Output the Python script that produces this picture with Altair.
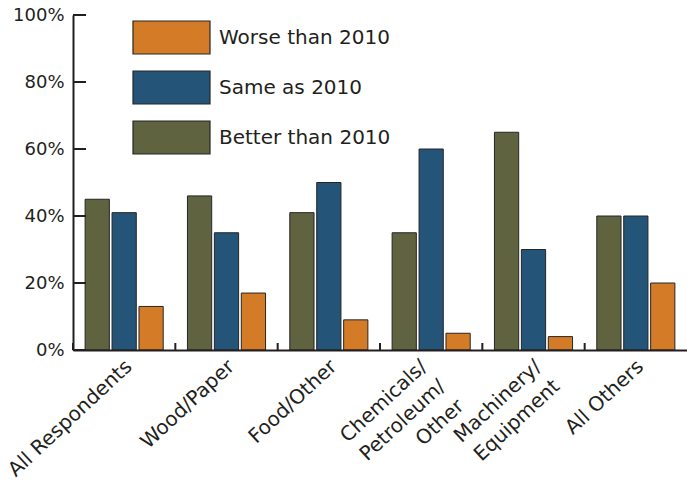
import altair as alt
import pandas as pd

# Survey outlook by industry group (share of respondents, %)
categories = [
    "All Respondents",
    "Wood/Paper",
    "Food/Other",
    "Chemicals/\nPetroleum/\nOther",
    "Machinery/\nEquipment",
    "All Others",
]
series = ["Worse than 2010", "Same as 2010", "Better than 2010"]
bar_order = ["Better than 2010", "Same as 2010", "Worse than 2010"]
better = [45, 46, 41, 35, 65, 40]
same = [41, 35, 50, 60, 30, 40]
worse = [13, 17, 9, 5, 4, 20]
colors = ["#d47b27", "#255479", "#5f633f"]
y_ticks = [0, 20, 40, 60, 80, 100]

ink = "#231f20"
font = "DejaVu Sans"

rows = []
for i, cat in enumerate(categories):
    for name, vals in zip(series, [worse, same, better]):
        rows.append({"category": cat, "response": name, "pct": vals[i]})
df = pd.DataFrame(rows)

x_scale = alt.Scale(domain=categories, paddingInner=0, paddingOuter=0)
y_scale = alt.Scale(domain=[0, 100], nice=False)

bars = alt.Chart(df).mark_bar(stroke="#262626", strokeWidth=1).encode(
    x=alt.X(
        "category:N",
        sort=categories,
        scale=x_scale,
        title=None,
        axis=alt.Axis(
            labelAngle=-43,
            labelAlign="right",
            labelBaseline="top",
            labelPadding=6,
            labelFontSize=20,
            labelLineHeight=27,
            labelExpr="split(datum.label, '\\n')",
            labelOffset={
                "condition": {"test": "indexof(datum.value, 'Chemicals') === 0", "value": -14},
                "value": -2,
            },
            labelOverlap=False,
            labelLimit=300,
            ticks=False,
            tickSize=0,
            domainWidth=2,
            domainColor=ink,
            zindex=1,
        ),
    ),
    xOffset=alt.XOffset(
        "response:N",
        sort=bar_order,
        scale=alt.Scale(domain=bar_order, paddingInner=0.1, paddingOuter=0.45),
    ),
    y=alt.Y(
        "pct:Q",
        scale=y_scale,
        title=None,
        axis=alt.Axis(
            values=y_ticks,
            labelExpr="datum.value + '%'",
            labelFontSize=18,
            labelPadding=9,
            ticks=False,
            tickSize=0,
            grid=False,
            domainWidth=2,
            domainColor=ink,
            zindex=1,
        ),
    ),
    fill=alt.Fill(
        "response:N",
        scale=alt.Scale(domain=series, range=colors),
        legend=alt.Legend(
            title=None,
            orient="none",
            legendX=59,
            legendY=5,
            padding=0,
            direction="vertical",
            symbolType="M-1,-1H3.6667V1H-1Z",
            symbolSize=1089,
            symbolStrokeColor="#262626",
            symbolStrokeWidth=1.2,
            symbolOpacity=1,
            labelOffset=52,
            labelFont=font,
            labelFontSize=20,
            labelColor=ink,
            labelLimit=300,
            rowPadding=11,
        ),
    ),
)

# Inward-pointing ticks on the value axis
y_tick_marks = alt.Chart(pd.DataFrame({"pct": y_ticks})).mark_rule(
    color=ink, strokeWidth=2
).encode(
    y=alt.Y("pct:Q", scale=y_scale, title=None),
    x=alt.value(0),
    x2=alt.value(13),
)

# Short upward ticks separating the industry groups
x_tick_marks = alt.Chart(pd.DataFrame({"category": categories})).mark_rule(
    color=ink, strokeWidth=2
).encode(
    x=alt.X("category:N", sort=categories, scale=x_scale, bandPosition=0, title=None),
    y=alt.value(328),
    y2=alt.value(335),
)

chart = (
    alt.layer(bars, y_tick_marks, x_tick_marks)
    .properties(
        width=614,
        height=335,
        autosize=alt.AutoSizeParams(type="none"),
        padding={"left": 73, "top": 15, "right": 0, "bottom": 135},
    )
    .configure_view(stroke=None)
    .configure_axis(labelFont=font, labelColor=ink)
)

chart.save("out.html", embed_options={"renderer": "svg", "actions": False})
